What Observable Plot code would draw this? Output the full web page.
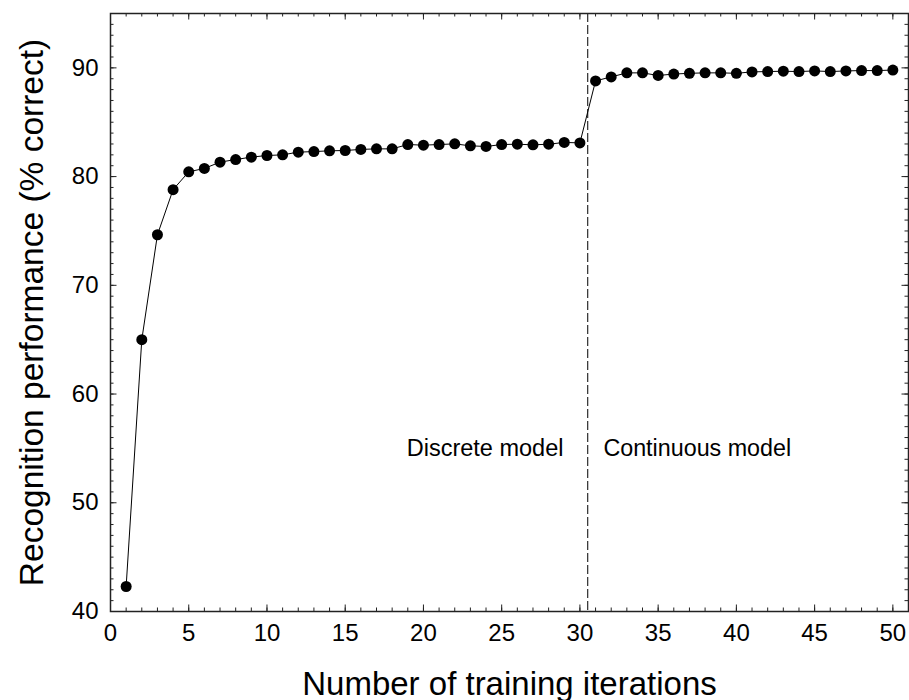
<!DOCTYPE html>
<html>
<head>
<meta charset="utf-8">
<script src="https://cdn.jsdelivr.net/npm/d3@7"></script>
<script src="https://cdn.jsdelivr.net/npm/@observablehq/plot@0.6"></script>
<style>
  html, body { margin: 0; padding: 0; background: #fff; }
  #chart svg { display: block; }
</style>
</head>
<body>
<div id="chart"></div>
<script>
// ---- data ----
const iterations = d3.range(1, 51);
const performance = [
  42.3, 65.0, 74.65, 78.8, 80.44, 80.75, 81.33, 81.57, 81.79, 81.94,
  82.0, 82.25, 82.3, 82.37, 82.4, 82.5, 82.55, 82.55, 82.95, 82.89,
  82.95, 83.01, 82.83, 82.77, 82.95, 82.98, 82.92, 82.98, 83.14, 83.1,
  88.8, 89.17, 89.54, 89.54, 89.3, 89.43, 89.5, 89.54, 89.54, 89.5,
  89.63, 89.66, 89.69, 89.66, 89.72, 89.66, 89.72, 89.75, 89.75, 89.8
];
const xTickLabels = [0, 5, 10, 15, 20, 25, 30, 35, 40, 45, 50];
const yTickLabels = [40, 50, 60, 70, 80, 90];
const xMinorTicks = d3.range(0, 52);
const yMinorTicks = d3.range(40, 96);
const switchPoint = [30.5];
const regionLabels = [
  {x: 28.95, y: 55.03, text: "Discrete model", anchor: "end"},
  {x: 31.5, y: 55.03, text: "Continuous model", anchor: "start"}
];
const xTitle = "Number of training iterations";
const yTitle = "Recognition performance (% correct)";

const data = iterations.map((x, i) => ({x, y: performance[i]}));

const W = 909, H = 700;
const mL = 110, mR = 1, mT = 13, mB = 89;
const innerW = W - mL - mR, innerH = H - mT - mB;
const minorLen = 3.5, majorLen = 6.5;

const chart = Plot.plot({
  width: W,
  height: H,
  marginLeft: mL,
  marginRight: mR,
  marginTop: mT,
  marginBottom: mB,
  style: {fontFamily: "'Liberation Sans', Arial, sans-serif", background: "#fff", color: "#000"},
  x: {domain: [0, 51], axis: null},
  y: {domain: [40, 95], axis: null},
  marks: [
    // inward ticks: bottom & top
    Plot.tickX(xMinorTicks, {x: d => d, insetTop: innerH - minorLen, stroke: "#222"}),
    Plot.tickX(xMinorTicks, {x: d => d, insetBottom: innerH - minorLen, stroke: "#222"}),
    Plot.tickX(xTickLabels, {x: d => d, insetTop: innerH - majorLen, stroke: "#222"}),
    Plot.tickX(xTickLabels, {x: d => d, insetBottom: innerH - majorLen, stroke: "#222"}),
    // inward ticks: left & right
    Plot.tickY(yMinorTicks, {y: d => d, insetRight: innerW - minorLen, stroke: "#222"}),
    Plot.tickY(yMinorTicks, {y: d => d, insetLeft: innerW - minorLen, stroke: "#222"}),
    Plot.tickY(yTickLabels, {y: d => d, insetRight: innerW - majorLen, stroke: "#222"}),
    Plot.tickY(yTickLabels, {y: d => d, insetLeft: innerW - majorLen, stroke: "#222"}),
    // tick labels
    Plot.axisX(xTickLabels, {anchor: "bottom", tickSize: 0, tickPadding: 12, fontSize: 24, label: null}),
    Plot.axisY(yTickLabels, {anchor: "left", tickSize: 0, tickPadding: 12, fontSize: 24, label: null}),
    // divider
    Plot.ruleX(switchPoint, {x: d => d, stroke: "#000", strokeWidth: 1, strokeDasharray: "9,3"}),
    // series
    Plot.line(data, {x: "x", y: "y", stroke: "#000", strokeWidth: 1}),
    Plot.dot(data, {x: "x", y: "y", r: 5.5, fill: "#000", stroke: "none"}),
    // region labels
    Plot.text(regionLabels.filter(d => d.anchor === "end"), {x: "x", y: "y", text: "text", textAnchor: "end", lineAnchor: "middle", fontSize: 23.5, fill: "#000"}),
    Plot.text(regionLabels.filter(d => d.anchor === "start"), {x: "x", y: "y", text: "text", textAnchor: "start", lineAnchor: "middle", fontSize: 23.3, fill: "#000"}),
    // axis titles
    Plot.text([xTitle], {text: d => d, frameAnchor: "bottom", textAnchor: "middle", lineAnchor: "bottom", dy: 83, fontSize: 33, fill: "#000"}),
    Plot.text([yTitle], {text: d => d, frameAnchor: "left", textAnchor: "middle", lineAnchor: "bottom", rotate: -90, dx: -68, fontSize: 33.5, fill: "#000"}),
    // frame
    Plot.frame({stroke: "#222", strokeWidth: 1.5})
  ]
});
document.getElementById("chart").appendChild(chart);
</script>
</body>
</html>
